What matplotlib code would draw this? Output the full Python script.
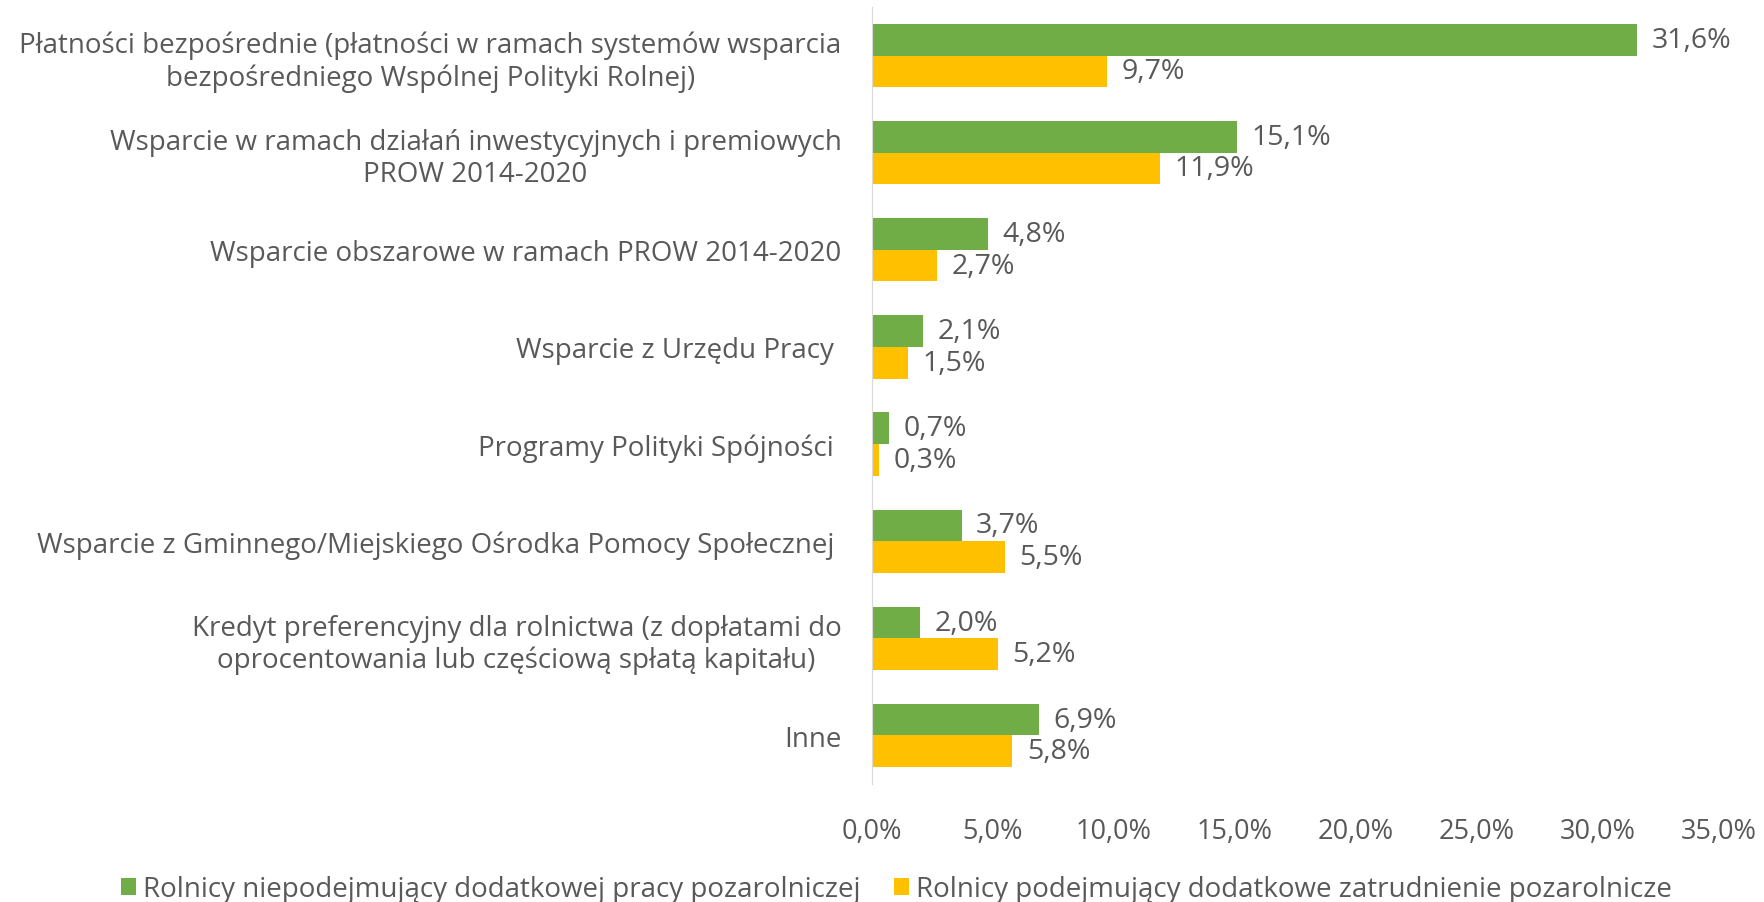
import numpy as np
import matplotlib.pyplot as plt
from matplotlib.ticker import FuncFormatter

categories = [
    "Płatności bezpośrednie (płatności w ramach systemów wsparcia\nbezpośredniego Wspólnej Polityki Rolnej)",
    "Wsparcie w ramach działań inwestycyjnych i premiowych\nPROW 2014-2020",
    "Wsparcie obszarowe w ramach PROW 2014-2020",
    "Wsparcie z Urzędu Pracy ",
    "Programy Polityki Spójności ",
    "Wsparcie z Gminnego/Miejskiego Ośrodka Pomocy Społecznej ",
    "Kredyt preferencyjny dla rolnictwa (z dopłatami do\noprocentowania lub częściową spłatą kapitału)",
    "Inne",
]
green_vals = [31.6, 15.1, 4.8, 2.1, 0.7, 3.7, 2.0, 6.9]
yellow_vals = [9.7, 11.9, 2.7, 1.5, 0.3, 5.5, 5.2, 5.8]
series_names = ["Rolnicy niepodejmujący dodatkowej pracy pozarolniczej",
                "Rolnicy podejmujący dodatkowe zatrudnienie pozarolnicze"]

TEXT = "#595959"
plt.rcParams['font.family'] = ['Open Sans', 'DejaVu Sans']

fig = plt.figure(figsize=(17.64, 9.03), dpi=100)
ax = fig.add_axes([872 / 1764, 1 - 785 / 903, (1719 - 872) / 1764, (785 - 8) / 903])

y = np.arange(len(categories))
h = 0.325
ax.barh(y - h / 2, green_vals, height=h, color="#70AD47", label=series_names[0])
ax.barh(y + h / 2, yellow_vals, height=h, color="#FFC000", label=series_names[1])

for yi, g, yv in zip(y, green_vals, yellow_vals):
    ax.text(g + 0.6, yi - h / 2, f"{g:.1f}%".replace(".", ","), va="center", ha="left", color=TEXT, fontsize=20.5)
    ax.text(yv + 0.6, yi + h / 2, f"{yv:.1f}%".replace(".", ","), va="center", ha="left", color=TEXT, fontsize=20.5)

ax.set_xlim(0, 35)
ax.set_ylim(len(categories) - 0.5, -0.5)
ax.set_xticks(np.arange(0, 36, 5))
ax.xaxis.set_major_formatter(FuncFormatter(lambda v, p: f"{v:.1f}%".replace(".", ",")))
ax.set_yticks(y)
ax.set_yticklabels(categories, ha="right", multialignment="center", fontsize=20)
ax.tick_params(axis="both", length=0, colors=TEXT)
ax.tick_params(axis="x", pad=24, labelsize=19.5)
ax.tick_params(axis="y", pad=22)
for s in ["top", "right", "bottom"]:
    ax.spines[s].set_visible(False)
ax.spines["left"].set_color("#D9D9D9")

fig.legend(loc="center", bbox_to_anchor=(0.508, 1 - 890 / 903), ncol=2, frameon=False,
           fontsize=20, labelcolor=TEXT, handlelength=0.55, handleheight=0.55,
           handletextpad=0.25, columnspacing=1.2)

fig.savefig("out.png", dpi=100)
